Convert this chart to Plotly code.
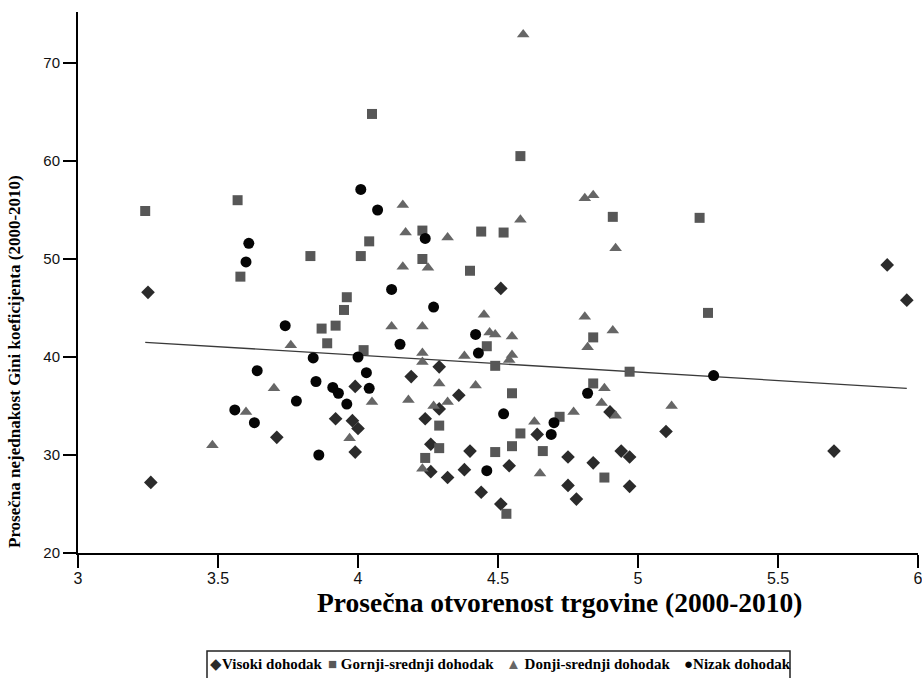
import plotly.graph_objects as go

# ---------------- data ----------------
series_names = ["Visoki dohodak", "Gornji-srednji dohodak", "Donji-srednji dohodak", "Nizak dohodak"]

visoki_x = [3.25, 3.26, 3.71, 4.51, 4.29, 4.19, 3.99, 4.36, 4.29, 3.92, 3.98, 4.00,
            4.24, 4.64, 4.26, 4.40, 3.99, 4.75, 4.84, 4.54, 4.26, 4.32, 4.38, 4.44,
            4.75, 4.78, 4.51, 5.89, 5.96, 4.90, 5.10, 4.94, 4.97, 5.70, 4.97]
visoki_y = [46.6, 27.2, 31.8, 47.0, 39.0, 38.0, 37.0, 36.1, 34.7, 33.7, 33.5, 32.7,
            33.7, 32.1, 31.1, 30.4, 30.3, 29.8, 29.2, 28.9, 28.3, 27.7, 28.5, 26.2,
            26.9, 25.5, 25.0, 49.4, 45.8, 34.4, 32.4, 30.4, 29.8, 30.4, 26.8]

gornji_x = [3.24, 3.57, 3.83, 3.58, 3.87, 4.05, 4.58, 4.23, 4.44, 4.52, 4.04, 4.01,
            4.23, 4.40, 3.96, 3.95, 3.92, 3.89, 4.02, 4.46, 4.49, 4.84, 4.84, 4.55,
            4.72, 4.58, 4.29, 4.29, 4.55, 4.49, 4.66, 4.24, 4.53, 4.91, 5.22, 5.25,
            4.97, 4.88]
gornji_y = [54.9, 56.0, 50.3, 48.2, 42.9, 64.8, 60.5, 52.9, 52.8, 52.7, 51.8, 50.3,
            50.0, 48.8, 46.1, 44.8, 43.2, 41.4, 40.7, 41.1, 39.1, 42.0, 37.3, 36.3,
            33.9, 32.2, 33.0, 30.7, 30.9, 30.3, 30.4, 29.7, 24.0, 54.3, 54.2, 44.5,
            38.5, 27.7]

donji_x = [4.59, 4.81, 4.84, 4.16, 4.58, 4.17, 4.32, 4.16, 4.25, 4.45, 4.12, 4.23,
           4.47, 4.49, 4.55, 4.23, 4.23, 4.38, 4.55, 4.54, 4.81, 4.82, 4.92, 4.91,
           3.76, 3.70, 3.60, 3.48, 4.05, 4.29, 4.42, 4.18, 4.27, 4.32, 4.77, 4.63,
           3.97, 4.23, 4.65, 4.88, 4.87, 4.92, 5.12]
donji_y = [72.9, 56.2, 56.5, 55.5, 54.0, 52.7, 52.2, 49.2, 49.1, 44.3, 43.1, 43.1,
           42.5, 42.3, 42.1, 40.4, 39.5, 40.1, 40.2, 39.7, 44.1, 41.0, 51.1, 42.7,
           41.2, 36.8, 34.4, 31.0, 35.4, 37.3, 37.1, 35.6, 35.0, 35.4, 34.4, 33.4,
           31.7, 28.6, 28.1, 36.8, 35.3, 34.0, 35.0]

nizak_x = [3.61, 3.60, 3.74, 3.84, 3.64, 3.85, 3.56, 3.63, 3.78, 3.86, 4.01, 4.07,
           4.24, 4.12, 4.27, 4.42, 4.15, 4.43, 4.00, 4.03, 3.91, 3.93, 4.04, 3.96,
           4.52, 4.82, 4.70, 4.69, 4.46, 5.27]
nizak_y = [51.6, 49.7, 43.2, 39.9, 38.6, 37.5, 34.6, 33.3, 35.5, 30.0, 57.1, 55.0,
           52.1, 46.9, 45.1, 42.3, 41.3, 40.4, 40.0, 38.4, 36.9, 36.3, 36.8, 35.2,
           34.2, 36.3, 33.3, 32.1, 28.4, 38.1]

trend_x = [3.24, 5.96]
trend_y = [41.5, 36.8]

x_ticks = [3, 3.5, 4, 4.5, 5, 5.5, 6]
y_ticks = [20, 30, 40, 50, 60, 70]

x_title = "Prosečna otvorenost trgovine (2000-2010)"
y_title = "Prosečna nejednakost Gini koeficijenta (2000-2010)"

# ---------------- styling ----------------
colors = ["#2b2b2b", "#575757", "#666666", "#050505"]
symbols = ["diamond", "square", "triangle-up", "circle"]
sizes = [10.5, 10, 11, 11]

fig = go.Figure()

fig.add_trace(go.Scatter(x=trend_x, y=trend_y, mode="lines",
                         line=dict(color="#3a3a3a", width=1.3),
                         showlegend=False, hoverinfo="skip"))

all_x = [visoki_x, gornji_x, donji_x, nizak_x]
all_y = [visoki_y, gornji_y, donji_y, nizak_y]
for name, xs, ys, c, s, sz in zip(series_names, all_x, all_y, colors, symbols, sizes):
    fig.add_trace(go.Scatter(x=xs, y=ys, mode="markers", name=name,
                             marker=dict(symbol=s, color=c, size=sz, line=dict(width=0)),
                             showlegend=False))

W, H = 922, 678
ml, mr, mt, mb = 78, 4, 12, 125
pw, ph = W - ml - mr, H - mt - mb

def px_x(px):
    return (px - ml) / pw

def px_y(py):
    return (H - mb - py) / ph

serif = "Liberation Serif, Times New Roman, serif"

fig.update_layout(
    width=W, height=H,
    margin=dict(l=ml, r=mr, t=mt, b=mb, autoexpand=False),
    paper_bgcolor="white", plot_bgcolor="white",
    showlegend=False,
    xaxis=dict(range=[3, 6], tickvals=x_ticks, ticktext=[str(v) for v in x_ticks],
               automargin=False,
               showgrid=False, zeroline=False, showline=True, linecolor="black",
               linewidth=2, ticks="outside", ticklen=13, tickwidth=2, tickcolor="black",
               ticklabelstandoff=-3, ticklabeloverflow="allow",
               tickfont=dict(family="Liberation Sans Narrow, Liberation Sans, Arial", size=16, color="#111")),
    yaxis=dict(range=[20, 20 + ph / 9.8], tickvals=y_ticks, automargin=False,
               showgrid=False, zeroline=False, showline=True, linecolor="black",
               linewidth=2, ticks="outside", ticklen=13, tickwidth=2, tickcolor="black",
               tickfont=dict(family="Liberation Sans, Arial", size=15, color="#111")),
)

annotations = [
    dict(text="<b>" + x_title + "</b>", xref="paper", yref="paper",
         x=px_x(559.5), y=px_y(602), xanchor="center", yanchor="middle",
         showarrow=False, font=dict(family=serif, size=27.5, color="black")),
    dict(text="<b>" + y_title + "</b>", xref="paper", yref="paper",
         x=px_x(14), y=px_y(362), xanchor="center", yanchor="middle", textangle=-90,
         showarrow=False, font=dict(family=serif, size=17, color="black")),
]

legend_items = [
    ("◆", colors[0], "Visoki dohodak", 208),
    ("■", colors[1], "\u00a0Gornji-srednji dohodak", 326),
    ("▲", colors[2], "\u00a0Donji-srednji dohodak", 504),
    ("●", colors[3], "Nizak dohodak", 682),
]
for glyph, col, label, lx in legend_items:
    annotations.append(dict(
        text="<span style='color:%s'>%s</span><b>%s</b>" % (col, glyph, label),
        xref="paper", yref="paper", x=px_x(lx), y=px_y(664),
        xanchor="left", yanchor="middle", showarrow=False,
        font=dict(family=serif, size=15, color="black")))

fig.update_layout(annotations=annotations)

fig.add_shape(type="rect", xref="paper", yref="paper",
              x0=px_x(207), x1=px_x(790), y0=px_y(651), y1=px_y(700),
              line=dict(color="#222", width=1.5), fillcolor="rgba(0,0,0,0)")

fig.write_html("out.html")
